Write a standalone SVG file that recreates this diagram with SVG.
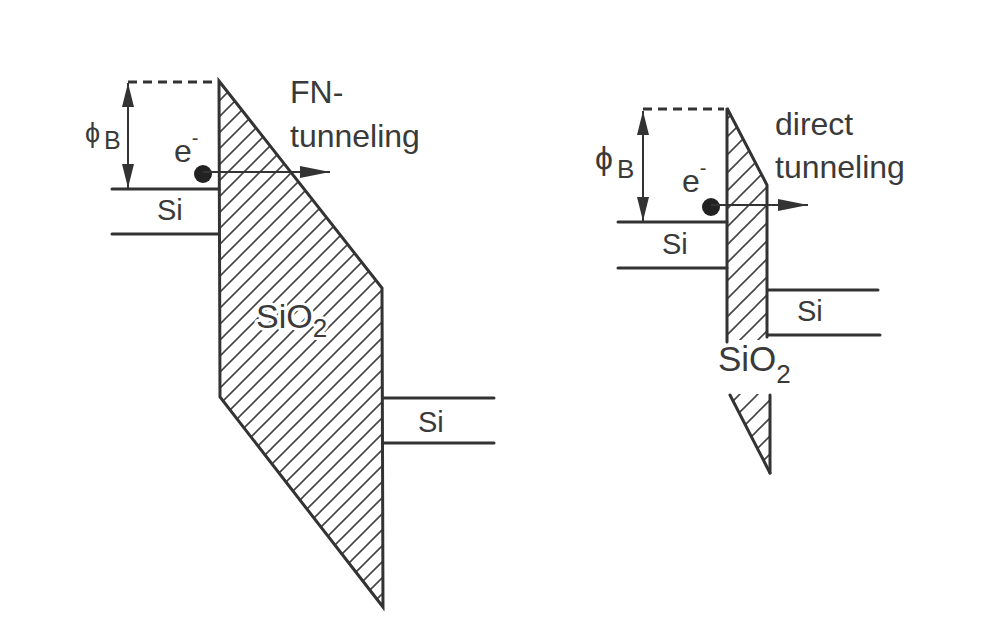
<svg xmlns="http://www.w3.org/2000/svg" width="1008" height="641" viewBox="0 0 1008 641">
  <style>
    .ln { stroke: #333; stroke-width: 3; fill: none; stroke-linecap: round; }
    .thin { stroke: #333; stroke-width: 2; fill: none; }
    .dash { stroke: #333; stroke-width: 3; fill: none; stroke-dasharray: 9 6; }
    .t { font-family: "Liberation Sans", Arial, sans-serif; fill: #3a3a3a; }
    .halo { stroke: #fff; stroke-width: 6; paint-order: stroke; stroke-linejoin: round; }
  </style>
  <defs>
    <pattern id="hatchL" patternUnits="userSpaceOnUse" width="16" height="16">
      <path d="M-1,1 L1,-1 M0,16 L16,0 M15,17 L17,15" stroke="#444" stroke-width="1.6"/>
    </pattern>
    <pattern id="hatchR" patternUnits="userSpaceOnUse" width="18" height="18">
      <path d="M-1,1 L1,-1 M0,18 L18,0 M17,19 L19,17" stroke="#444" stroke-width="1.6"/>
    </pattern>
    <marker id="ah" viewBox="0 0 30 12" refX="30" refY="6" markerWidth="30" markerHeight="12" markerUnits="userSpaceOnUse" orient="auto-start-reverse">
      <path d="M0,0 L30,6 L0,12 Z" fill="#333"/>
    </marker>
    <marker id="av" viewBox="0 0 24 12" refX="24" refY="6" markerWidth="24" markerHeight="12" markerUnits="userSpaceOnUse" orient="auto-start-reverse">
      <path d="M0,0 L24,6 L0,12 Z" fill="#333"/>
    </marker>
  </defs>
  <rect width="1008" height="641" fill="#fff"/>

  <!-- Left: FN tunneling -->
  <g id="left-oxide">
    <polygon points="219,81 382,288 383,607 220,397" fill="url(#hatchL)"/>
    <polygon points="219,81 382,288 383,607 220,397" class="ln"/>
  </g>
  <g id="left-si-left">
    <line x1="112" y1="189" x2="219" y2="189" class="ln"/>
    <line x1="112" y1="234" x2="219" y2="234" class="ln"/>
    <text x="157" y="220" class="t" font-size="29">Si</text>
  </g>
  <g id="left-si-right">
    <line x1="383" y1="398" x2="494" y2="398" class="ln"/>
    <line x1="383" y1="443" x2="494" y2="443" class="ln"/>
    <text x="418" y="432" class="t" font-size="29">Si</text>
  </g>
  <g id="left-labels">
    <text x="290" y="103" class="t" font-size="32">FN-</text>
    <text x="290" y="147" class="t" font-size="32">tunneling</text>
    <text x="256" y="328" class="t halo" font-size="34">SiO<tspan font-size="26" dy="9">2</tspan></text>
    <text x="85" y="142" class="t" font-size="27">ϕ</text>
    <text x="104" y="149" class="t" font-size="25">B</text>
    <text x="174" y="162" class="t" font-size="32">e<tspan font-size="20" dy="-17">-</tspan></text>
    <circle cx="203" cy="174" r="9" fill="#222"/>
  </g>
  <g id="left-connectors">
    <line x1="128" y1="82" x2="218" y2="82" class="dash"/>
    <line x1="128" y1="83" x2="128" y2="188" class="thin" marker-start="url(#av)" marker-end="url(#av)"/>
    <line x1="203" y1="172" x2="330" y2="172" class="thin" marker-end="url(#ah)"/>
  </g>

  <!-- Right: direct tunneling -->
  <g id="right-oxide">
    <polygon points="727,108 767,185 767,340 727,340" fill="url(#hatchR)"/>
    <polygon points="729,394 769,394 769,473" fill="url(#hatchR)"/>
    <polyline points="727,342 727,108 767,185 767,337" class="ln"/>
    <line x1="730" y1="395" x2="770" y2="473" class="ln"/>
    <line x1="770" y1="395" x2="770" y2="473" class="ln"/>
  </g>
  <g id="right-si-left">
    <line x1="618" y1="222" x2="727" y2="222" class="ln"/>
    <line x1="618" y1="268" x2="727" y2="268" class="ln"/>
    <text x="662" y="254" class="t" font-size="29">Si</text>
  </g>
  <g id="right-si-right">
    <line x1="768" y1="290" x2="878" y2="290" class="ln"/>
    <line x1="768" y1="335" x2="880" y2="335" class="ln"/>
    <text x="797" y="321" class="t" font-size="29">Si</text>
  </g>
  <g id="right-labels">
    <text x="775" y="135" class="t" font-size="32">direct</text>
    <text x="775" y="178" class="t" font-size="32">tunneling</text>
    <text x="718" y="371" class="t" font-size="35">SiO<tspan font-size="26" dy="12">2</tspan></text>
    <text x="595" y="169" class="t" font-size="32">ϕ</text>
    <text x="617" y="178" class="t" font-size="26">B</text>
    <text x="682" y="192" class="t" font-size="32">e<tspan font-size="20" dy="-17">-</tspan></text>
    <circle cx="711" cy="207" r="9" fill="#222"/>
  </g>
  <g id="right-connectors">
    <line x1="643" y1="109" x2="724" y2="109" class="dash"/>
    <line x1="643" y1="111" x2="643" y2="221" class="thin" marker-start="url(#av)" marker-end="url(#av)"/>
    <line x1="711" y1="205" x2="808" y2="205" class="thin" marker-end="url(#ah)"/>
  </g>
</svg>
